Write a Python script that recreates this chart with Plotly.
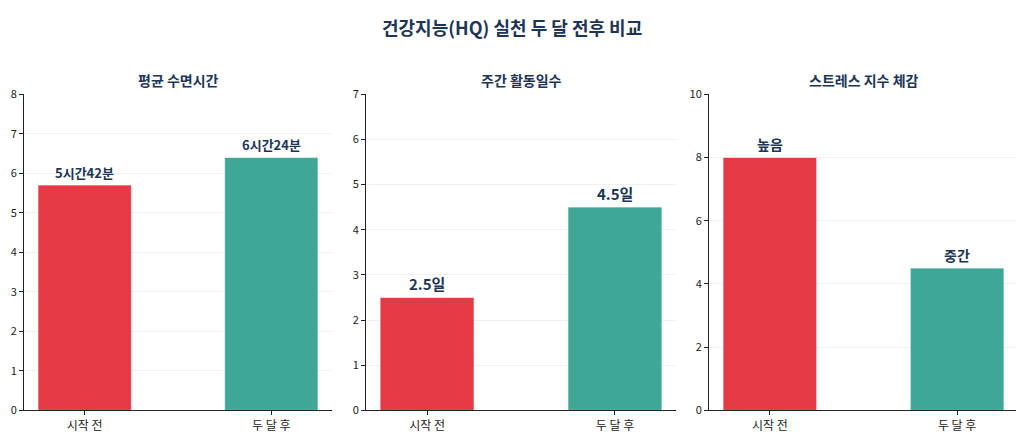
import plotly.graph_objects as go

categories = ["시작 전", "두 달 후"]
sleep_values = [5.7, 6.4]
sleep_labels = ["5시간42분", "6시간24분"]
activity_values = [2.5, 4.5]
activity_labels = ["2.5일", "4.5일"]
stress_values = [8, 4.5]
stress_labels = ["높음", "중간"]
subplot_titles = ["평균 수면시간", "주간 활동일수", "스트레스 지수 체감"]
main_title = "건강지능(HQ) 실천 두 달 전후 비교"
y_ranges = [[0, 8], [0, 7], [0, 10]]
y_dticks = [1, 1, 2]
label_sizes = [13, 15, 14]

bar_colors = ["#E63946", "#3FA796"]
navy = "#1D3557"
FONT = "Noto Sans CJK KR"

W, H, OFF = 1024, 448, 8


def px(X):
    return (X - OFF) / W


def py(Y):
    return 1 - (Y - OFF) / H


x_domains = [[px(24), px(332)], [px(366), px(676)], [px(709), px(1018)]]
y_domain = [py(416), py(88)]

fig = go.Figure()
series = [(sleep_values, sleep_labels), (activity_values, activity_labels), (stress_values, stress_labels)]
annotations = []
for i, (vals, labs) in enumerate(series):
    n = "" if i == 0 else str(i + 1)
    fig.add_trace(go.Bar(
        x=categories, y=vals, width=0.5,
        marker=dict(color=bar_colors, line=dict(color="rgba(255,255,255,0.6)", width=1)),
        xaxis="x" + n, yaxis="y" + n, showlegend=False, hoverinfo="skip",
    ))
    for c, v, t in zip(categories, vals, labs):
        annotations.append(dict(
            x=c, y=v, xref="x" + n, yref="y" + n, text="<b>" + t + "</b>",
            showarrow=False, yanchor="bottom", yshift=1,
            font=dict(family=FONT, size=label_sizes[i], color=navy),
        ))
    annotations.append(dict(
        x=sum(x_domains[i]) / 2, y=py(73), xref="paper", yref="paper",
        text="<b>" + subplot_titles[i] + "</b>", showarrow=False,
        xanchor="center", yanchor="middle",
        font=dict(family=FONT, size=14, color=navy),
    ))
    fig.update_layout(**{
        "xaxis" + n: dict(
            domain=x_domains[i], anchor="y" + n, range=[-0.325, 1.325],
            showline=True, linecolor="#222", linewidth=1, ticks="outside",
            ticklen=4, tickcolor="#222", showgrid=False,
            tickfont=dict(family=FONT, size=12, color="#222"),
        ),
        "yaxis" + n: dict(
            domain=y_domain, anchor="x" + n, range=y_ranges[i], dtick=y_dticks[i],
            showline=True, linecolor="#222", linewidth=1, ticks="outside",
            ticklen=4, tickcolor="#222", showgrid=True, gridcolor="#f0f0f0",
            zeroline=False, tickfont=dict(family=FONT, size=11, color="#222"),
        ),
    })

annotations.append(dict(
    x=px(512), y=py(18), xref="paper", yref="paper", text="<b>" + main_title + "</b>",
    showarrow=False, xanchor="center", yanchor="middle",
    font=dict(family=FONT, size=18, color=navy),
))

fig.update_layout(
    width=W, height=H, margin=dict(l=0, r=0, t=0, b=0),
    paper_bgcolor="white", plot_bgcolor="white",
    annotations=annotations, font=dict(family=FONT),
)

fig.write_html("out.html")
